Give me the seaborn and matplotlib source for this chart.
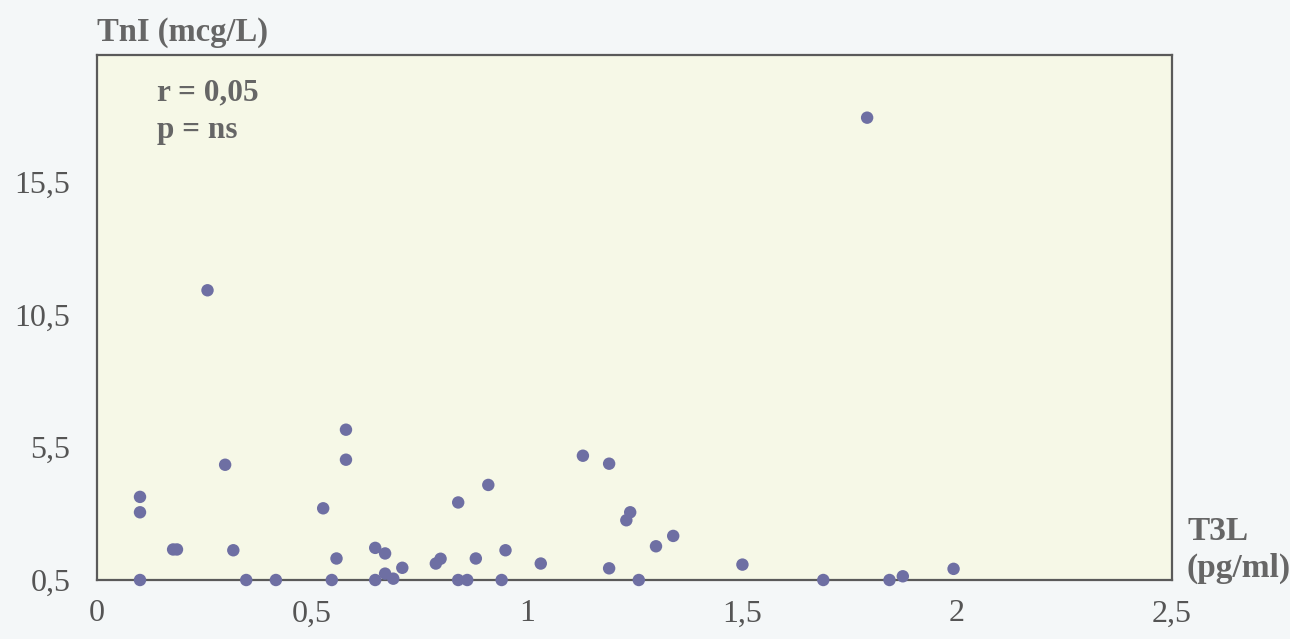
import matplotlib
matplotlib.use("Agg")
import matplotlib.pyplot as plt
import seaborn as sns
import pandas as pd

# T3L (pg/ml) values
t3l = [0.100, 0.100, 0.100, 0.177, 0.186, 0.257, 0.298, 0.317, 0.347, 0.416,
       0.526, 0.546, 0.557, 0.579, 0.579, 0.647, 0.670, 0.647, 0.670, 0.689,
       0.710, 0.788, 0.799, 0.840, 0.840, 0.861, 0.881, 0.910, 0.941, 0.950,
       1.032, 1.130, 1.191, 1.191, 1.231, 1.240, 1.260, 1.300, 1.340, 1.501,
       1.689, 1.791, 1.843, 1.874, 1.992]
# TnI (mcg/L) values
tni = [3.63, 3.05, 0.50, 1.65, 1.65, 11.41, 4.84, 1.62, 0.50, 0.50,
       3.20, 0.50, 1.31, 6.16, 5.03, 1.71, 1.50, 0.50, 0.74, 0.55,
       0.96, 1.12, 1.30, 3.42, 0.50, 0.50, 1.31, 4.08, 0.50, 1.62,
       1.12, 5.18, 4.88, 0.94, 2.75, 3.05, 0.50, 1.77, 2.16, 1.08,
       0.50, 17.91, 0.50, 0.64, 0.92]

x_ticks = [0, 0.5, 1, 1.5, 2, 2.5]
x_tick_labels = ["0", "0,5", "1", "1,5", "2", "2,5"]
y_ticks = [0.5, 5.5, 10.5, 15.5]
y_tick_labels = ["0,5", "5,5", "10,5", "15,5"]

df = pd.DataFrame({"T3L": t3l, "TnI": tni})

sns.set_style("white")
plt.rcParams["font.family"] = ["Liberation Serif", "DejaVu Serif"]

fig = plt.figure(figsize=(12.9, 6.39), dpi=100, facecolor="#F4F7F8")
ax = fig.add_axes([97 / 1290, 1 - 580 / 639, (1172 - 97) / 1290, (580 - 55) / 639])
ax.set_facecolor("#F6F8E7")

sns.scatterplot(data=df, x="T3L", y="TnI", ax=ax, s=80, color="#6E6FA3",
                edgecolor="none", clip_on=False, zorder=3)

ax.set_xlim(0, 2.5)
ax.set_ylim(0.5, 20.27)
ax.set_xticks(x_ticks)
ax.set_xticklabels(x_tick_labels)
ax.set_yticks(y_ticks)
ax.set_yticklabels(y_tick_labels)
ax.tick_params(axis="both", length=0, labelsize=23, labelcolor="#555555")
ax.tick_params(axis="x", pad=14)
ax.tick_params(axis="y", pad=19)
ax.set_xlabel("")
ax.set_ylabel("")

for side in ["left", "bottom", "top", "right"]:
    ax.spines[side].set_visible(True)
    ax.spines[side].set_color("#5A5A5A")
    ax.spines[side].set_linewidth(1.6)

txt_color = "#666666"
fig.text(97 / 1290, 1 - 32 / 639, "TnI (mcg/L)", fontsize=23.5, fontweight="bold",
         color=txt_color, ha="left", va="center")
fig.text(157 / 1290, 1 - 93 / 639, "r = 0,05", fontsize=22.5, fontweight="bold",
         color=txt_color, ha="left", va="center")
fig.text(157 / 1290, 1 - 130 / 639, "p = ns", fontsize=22.5, fontweight="bold",
         color=txt_color, ha="left", va="center")
fig.text(1187 / 1290, 1 - 532 / 639, "T3L", fontsize=24, fontweight="bold",
         color=txt_color, ha="left", va="center")
fig.text(1187 / 1290, 1 - 568 / 639, "(pg/ml)", fontsize=24, fontweight="bold",
         color=txt_color, ha="left", va="center")

fig.savefig("out.png", dpi=100, facecolor=fig.get_facecolor())
